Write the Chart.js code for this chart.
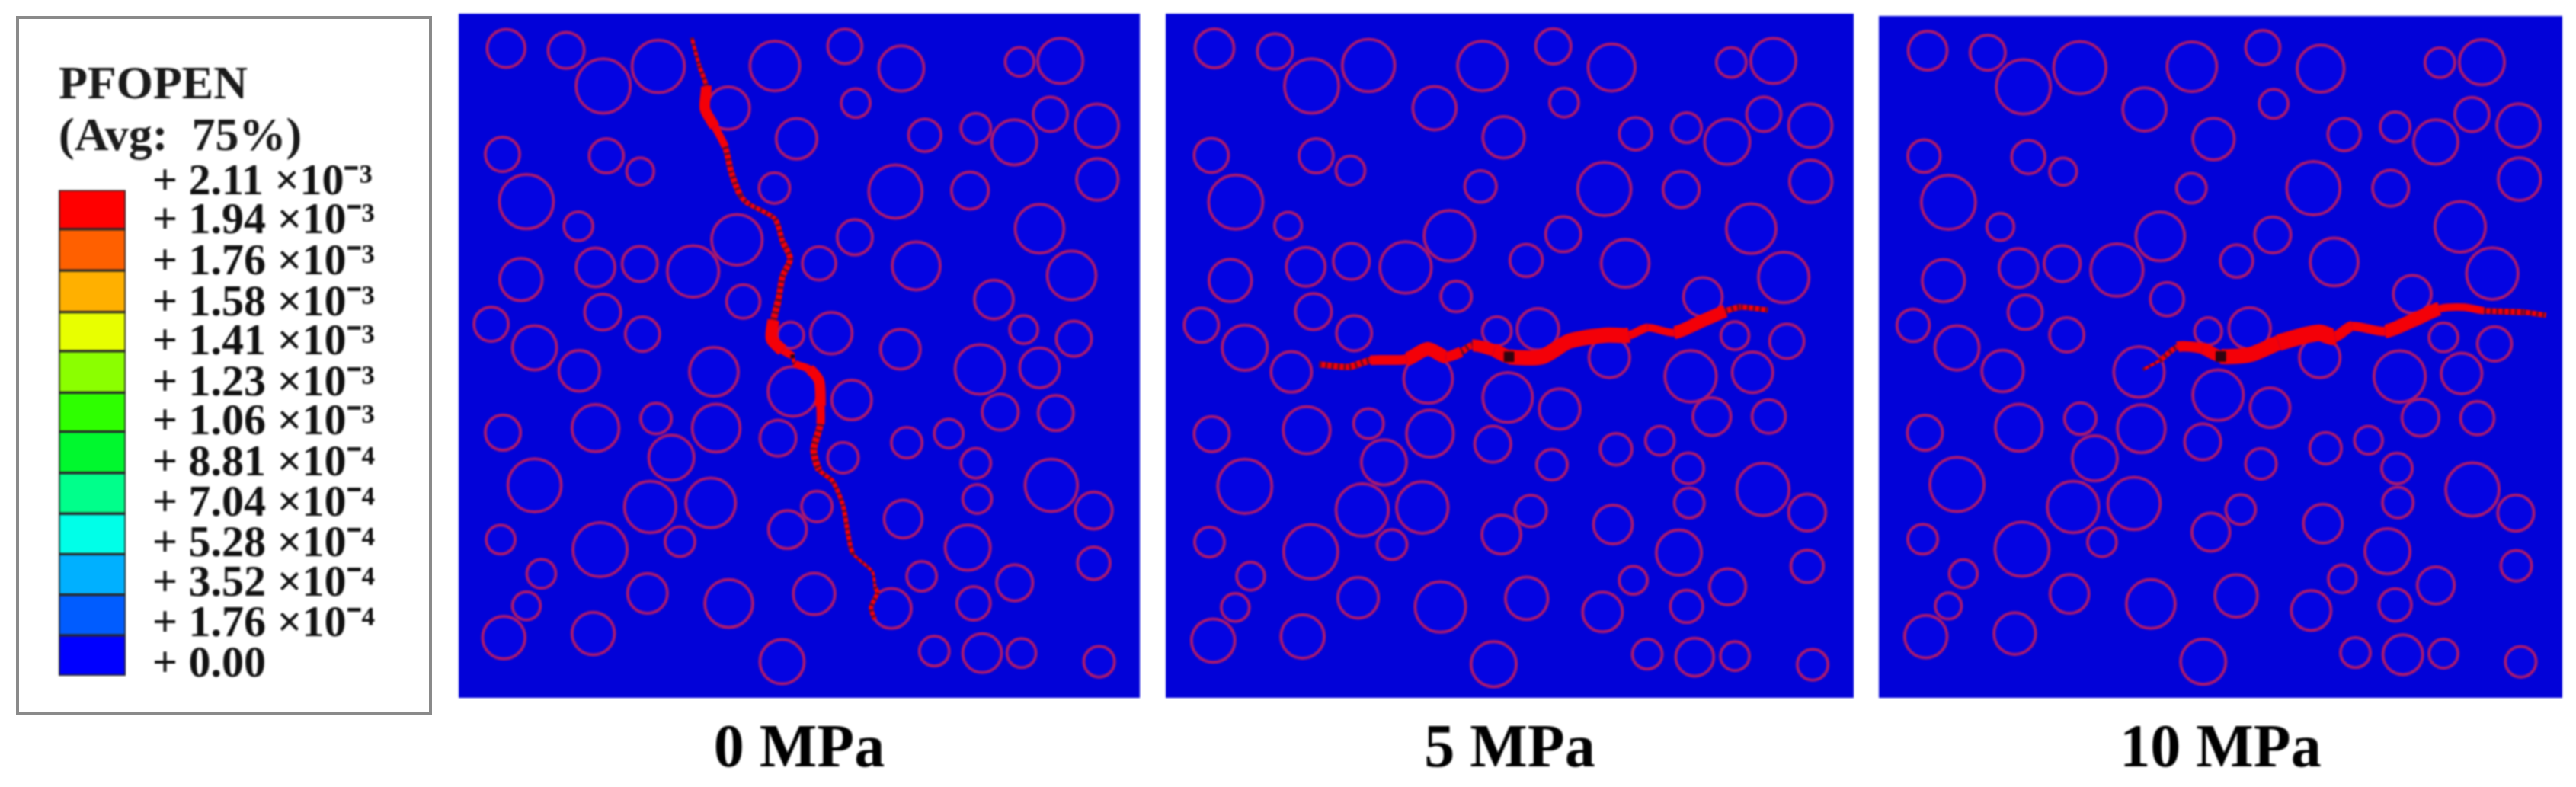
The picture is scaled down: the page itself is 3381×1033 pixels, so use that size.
<!DOCTYPE html>
<html>
<head>
<meta charset="utf-8">
<script src="https://cdn.jsdelivr.net/npm/chart.js@4/dist/chart.umd.min.js"></script>
<style>
  body { margin: 0; background: #fff; width: 3381px; height: 1033px; overflow: hidden; position: relative; }
  canvas { position: absolute; top: 0; filter: blur(1px); }
  #box { position: absolute; left: 21px; top: 21px; width: 546px; height: 917px; box-sizing: border-box; border: 4px solid #8a8a8a; filter: blur(0.7px); }
</style>
</head>
<body>
<div id="box"></div>
<canvas id="legend" width="620" height="960" style="left:0"></canvas>
<canvas id="p0" width="894" height="1015" style="left:602px;top:18px"></canvas>
<canvas id="p5" width="903" height="1015" style="left:1530px;top:18px"></canvas>
<canvas id="p10" width="897" height="1012" style="left:2466px;top:21px"></canvas>
<script>
// contour levels, bottom to top
const levels = [0, 1.76e-4, 3.52e-4, 5.28e-4, 7.04e-4, 8.81e-4, 1.06e-3, 1.23e-3, 1.41e-3, 1.58e-3, 1.76e-3, 1.94e-3, 2.11e-3];
const levelLabels = ["+ 0.00", "+ 1.76 ×10⁻⁴", "+ 3.52 ×10⁻⁴", "+ 5.28 ×10⁻⁴", "+ 7.04 ×10⁻⁴", "+ 8.81 ×10⁻⁴", "+ 1.06 ×10⁻³", "+ 1.23 ×10⁻³", "+ 1.41 ×10⁻³", "+ 1.58 ×10⁻³", "+ 1.76 ×10⁻³", "+ 1.94 ×10⁻³", "+ 2.11 ×10⁻³"];
const levelColors = ["#0000ff", "#005cff", "#00b0ff", "#00ffe8", "#00ff8b", "#00f82e", "#2eff00", "#8bff00", "#e8ff00", "#ffb000", "#ff6000", "#ff0000"];

const titles = ["0 MPa", "5 MPa", "10 MPa"];

// inclusions: centre and radius per panel
const x0 = [125,258,340,462,720,875,1000,1262,1352,617,899,768,1052,1165,1250,1330,1433,117,347,422,1434,719,987,1152,170,285,636,897,1306,158,323,421,539,818,1033,1377,650,339,1205,92,427,755,845,1271,1382,188,998,287,585,1174,1306,760,890,1219,1342,118,323,457,590,727,1012,1105,491,871,1165,188,1332,444,578,1168,1426,813,748,1004,113,333,510,1147,1426,203,1045,1251,438,618,807,978,1160,170,120,318,736,1073,1179,1266,1438];
const y0 = [97,101,172,133,132,93,137,124,122,216,206,277,270,256,284,228,251,308,311,342,358,375,382,380,402,451,478,473,456,557,533,526,541,525,530,549,601,622,597,646,666,668,664,657,675,693,696,739,741,736,733,780,797,821,823,862,853,834,853,873,882,864,912,912,923,967,967,1010,1002,994,1017,1009,1055,1034,1075,1095,1079,1091,1122,1143,1148,1161,1182,1202,1183,1212,1202,1207,1270,1262,1318,1297,1301,1301,1318];
const r0 = [42,40,60,58,55,38,50,32,50,47,32,45,36,33,50,38,48,38,38,30,46,34,59,41,60,32,56,39,54,47,43,39,57,37,53,54,37,40,43,38,38,29,46,31,39,49,44,45,54,55,44,55,44,40,39,39,52,34,53,40,34,32,50,34,33,59,58,57,55,32,41,34,42,42,32,60,33,50,36,32,33,40,44,53,46,44,37,31,47,47,49,33,43,32,34];

const x5 = [125,259,340,466,718,875,1004,1269,1362,612,899,765,1057,1170,1260,1341,1444,118,350,426,1445,714,988,1158,172,288,645,897,1313,160,327,428,548,815,1034,1385,660,344,1206,96,434,750,841,1277,1392,192,999,295,598,1179,1316,774,889,1226,1352,119,329,466,602,741,1014,1111,500,872,1174,192,1339,452,585,1176,1437,825,760,1007,114,338,518,1153,1437,205,1052,1261,443,625,816,984,1170,171,122,320,743,1083,1188,1277,1449];
const y5 = [97,103,172,131,132,93,135,125,122,216,205,274,267,255,283,228,251,310,311,340,362,372,377,378,403,450,470,467,456,559,532,521,533,519,525,553,591,621,592,648,664,660,656,669,680,693,712,741,755,750,742,792,815,830,830,865,857,844,864,885,895,878,921,926,933,969,975,1016,1011,1002,1021,1018,1065,1045,1080,1099,1085,1101,1128,1148,1156,1169,1191,1209,1192,1219,1208,1210,1276,1268,1323,1303,1309,1307,1324];
const r5 = [43,39,60,58,55,39,52,33,50,48,32,46,36,33,50,38,48,38,38,32,47,35,59,40,60,30,56,39,55,47,43,40,57,36,53,56,34,40,43,38,39,32,46,31,38,50,45,45,54,57,45,55,45,42,37,39,52,33,52,40,35,32,50,34,34,60,58,58,57,33,41,35,43,43,33,60,33,50,36,31,31,40,45,56,47,44,36,31,48,48,50,33,42,32,34];

const x10 = [135,268,347,472,720,877,1005,1269,1362,615,901,768,1057,1170,1260,1340,1443,127,358,435,1445,719,989,1160,181,296,650,899,1314,170,336,433,554,819,1035,1385,665,351,1208,103,443,756,848,1277,1390,200,1003,301,603,1180,1317,778,893,1226,1352,129,337,473,608,744,1016,1111,505,873,1174,200,1341,457,592,1176,1437,828,762,1010,124,344,521,1153,1438,214,1053,1260,449,629,818,984,1170,181,131,328,745,1082,1187,1277,1448];
const y10 = [101,105,173,135,133,95,137,125,124,218,207,277,268,253,283,228,250,311,313,342,357,375,375,375,403,452,471,468,452,559,534,525,538,520,522,545,596,622,586,648,667,660,654,672,685,693,712,739,741,750,744,787,812,832,833,862,852,834,854,880,893,877,913,924,933,965,975,1010,1003,1001,1022,1015,1060,1043,1074,1094,1080,1098,1127,1143,1153,1166,1183,1203,1187,1216,1205,1207,1268,1262,1318,1300,1304,1302,1318];
const r10 = [43,39,60,58,55,38,52,33,50,48,32,46,36,33,49,38,48,36,37,30,47,33,59,40,60,30,54,40,56,47,43,40,58,36,53,57,37,38,42,36,38,30,46,32,38,49,45,46,56,57,45,56,44,41,37,39,52,35,53,40,35,31,50,34,34,60,59,57,58,34,40,33,42,43,33,60,32,50,34,31,31,41,43,54,47,44,36,29,47,46,50,33,44,32,34];

// fracture paths and opening width along them
const crackX0 = [536,553,568,565,587,610,624,644,663,720,737,754,737,728,717,713,737,759,764,797,818,821,821,806,818,848,871,882,893,936,942,947,933,941];
const crackY0 = [76,132,172,217,253,293,345,390,407,436,481,516,551,597,638,675,698,710,724,736,759,809,845,896,936,959,1007,1063,1103,1139,1169,1181,1210,1234];
const crackW0 = [3,5,6,14,10,8,8,7,6,5,7,8,7,8,9,16,10,4,5,10,14,11,7,9,6,6,6,6,4,4,4,6,6,3];

const crackX5 = [357,423,470,550,597,637,671,696,744,777,850,910,990,1043,1084,1143,1204,1256,1290,1350];
const crackY5 = [726,731,718,716,695,711,701,688,698,711,711,680,668,668,653,663,640,620,612,618];
const crackW5 = [4,8,9,13,18,14,9,9,16,18,20,10,20,11,10,10,17,8,7,3];

const crackX10 = [612,649,688,743,784,850,912,1000,1037,1074,1148,1210,1268,1323,1367,1455,1504];
const crackY10 = [736,718,691,694,710,706,683,663,671,650,660,638,615,612,619,622,628];
const crackW10 = [3,4,7,14,16,20,10,22,14,12,12,18,9,10,8,7,3];

// element with the darkest shade on each path
const darkX = [759, 777, 784];
const darkY = [710, 711, 710];

new Chart(document.getElementById("legend"), {
  type: "bar",
  data: {
    labels: ["PFOPEN"],
    datasets: levelColors.map((c, i) => ({
      data: [[levels[i], levels[i + 1]]],
      backgroundColor: c,
      borderColor: "#2a2a2a",
      borderWidth: 2,
      borderSkipped: false,
      barPercentage: 1,
      categoryPercentage: 1,
      grouped: false
    }))
  },
  options: {
    responsive: false,
    animation: false,
    layout: { padding: { left: 77, bottom: 73 }, autoPadding: false },
    plugins: {
      legend: { display: false },
      tooltip: { enabled: false },
      title: {
        display: true,
        text: ["PFOPEN", "(Avg:  75%)"],
        align: "start",
        color: "#1a1a1a",
        font: { family: "Liberation Serif", weight: "bold", size: 62, lineHeight: 1.1 },
        padding: { top: 79, bottom: 34 }
      }
    },
    scales: {
      x: { display: false },
      y: { display: false, min: 0, max: 2.11e-3 },
      y2: {
        position: "right",
        min: -4.67e-5,
        max: 2.08e-3,
        grid: { display: false, drawTicks: false },
        border: { display: false },
        afterBuildTicks: s => { s.ticks = levels.map(v => ({ value: v })); },
        afterFit: s => { s.width = 455; },
        ticks: {
          autoSkip: false,
          padding: 35,
          color: "#111",
          font: { family: "Liberation Serif", weight: "bold", size: 58 },
          callback: (v, i) => levelLabels[i]
        }
      }
    }
  }
});

// fills the plot area with the matrix colour
const background = {
  id: "background",
  beforeDraw(chart) {
    const a = chart.chartArea;
    chart.ctx.fillStyle = "#0202d8";
    chart.ctx.fillRect(a.left, a.top, a.right - a.left, a.bottom - a.top);
  }
};

function points(xs, ys) {
  return xs.map((x, i) => ({ x: x, y: ys[i] }));
}

function panel(id, title, xMin, xMax, yMin, yMax, xs, ys, rs, cx, cy, cw, dark) {
  new Chart(document.getElementById(id), {
    type: "scatter",
    plugins: [background],
    data: {
      datasets: [
        {
          data: points(xs, ys),
          order: 4,
          pointBackgroundColor: "#0404e2",
          pointBorderColor: "#a81870",
          pointBorderWidth: 4,
          pointRadius: c => {
            const s = c.chart.scales.x;
            return rs[c.dataIndex] * s.width / (s.max - s.min);
          }
        },
        {
          type: "line",
          data: points(cx, cy),
          order: 3,
          borderColor: "#f40008",
          pointRadius: 0,
          tension: 0.25,
          segment: { borderWidth: c => Math.max(cw[c.p0DataIndex], cw[c.p1DataIndex]) }
        },
        {
          type: "line",
          data: points(cx, cy),
          order: 2,
          pointRadius: 0,
          tension: 0.25,
          borderDash: [3, 5],
          segment: {
            borderWidth: c => Math.max(cw[c.p0DataIndex], cw[c.p1DataIndex]),
            borderColor: c => cw[c.p0DataIndex] < 10 && cw[c.p1DataIndex] < 10 ? "#6a0a28" : "rgba(0,0,0,0)"
          }
        },
        {
          data: [dark],
          order: 1,
          pointStyle: "rect",
          pointBackgroundColor: "#300410",
          pointBorderColor: "#300410",
          pointRadius: id === "p0" ? 3 : 9
        }
      ]
    },
    options: {
      responsive: false,
      animation: false,
      layout: { padding: 0, autoPadding: false },
      plugins: { legend: { display: false }, tooltip: { enabled: false } },
      scales: {
        x: {
          min: xMin,
          max: xMax,
          grid: { display: false },
          border: { display: false },
          ticks: { display: false },
          afterFit: s => { s.height = 1033 - 916; },
          title: {
            display: true,
            text: title,
            color: "#000",
            font: { family: "Liberation Serif", weight: "bold", size: 80, lineHeight: 1.2 },
            padding: { top: 24, bottom: 0 }
          }
        },
        y: { display: false, reverse: true, min: yMin, max: yMax }
      }
    }
  });
}

panel("p0", titles[0], 20, 1528, 28, 1390, x0, y0, r0, crackX0, crackY0, crackW0, { x: darkX[0], y: darkY[0] });
panel("p5", titles[1], 17, 1540, 28, 1390, x5, y5, r5, crackX5, crackY5, crackW5, { x: darkX[1], y: darkY[1] });
panel("p10", titles[2], 27, 1540, 32, 1390, x10, y10, r10, crackX10, crackY10, crackW10, { x: darkX[2], y: darkY[2] });
</script>
</body>
</html>
